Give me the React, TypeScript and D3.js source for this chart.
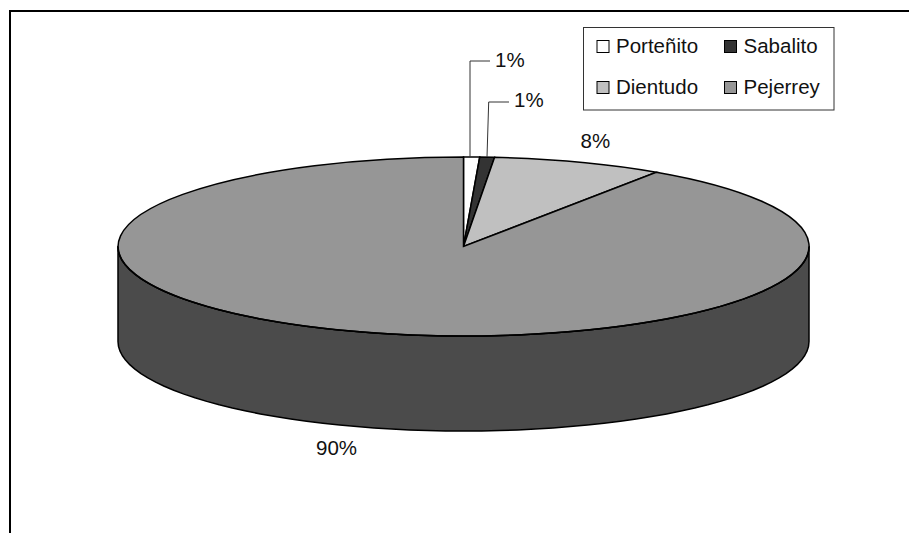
import React from 'react';
import * as d3 from 'd3';

const categories = ['Porteñito', 'Sabalito', 'Dientudo', 'Pejerrey'];
const shares = [0.75, 0.68, 8.0, 90.57];
const percentLabels = ['1%', '1%', '8%', '90%'];
const sliceColors = ['#ffffff', '#333333', '#c0c0c0', '#969696'];
const sideColor = '#4b4b4b';

const width = 909;
const height = 533;
const cx = 463.5;
const cy = 246.5;
const rx = 345.5;
const ry = 89.5;
const depth = 95;

const font = '"Liberation Sans", Arial, sans-serif';

const App = () => {
  const pie = d3.pie<number>().sort(null)(shares);
  const arc = d3.arc<d3.PieArcDatum<number>>().innerRadius(0).outerRadius(1);

  // the wall is the front half of the ellipse, pushed down by the depth
  const xScale = d3.scaleLinear().domain([-1, 1]).range([cx - rx, cx + rx]);
  const yScale = d3.scaleLinear().domain([-1, 1]).range([cy - ry, cy + ry]);
  const front = d3.range(0, 181, 3).map(a => (a * Math.PI) / 180);
  const edge = d3.line<number>()
    .x(a => xScale(Math.cos(a)))
    .y(a => yScale(Math.sin(a)));
  const wall = d3.line<[number, number]>();
  const topPts: [number, number][] = front.map(a => [xScale(Math.cos(a)), yScale(Math.sin(a))]);
  const lowPts: [number, number][] = topPts.map(p => [p[0], p[1] + depth]).reverse();

  const legendCols = [597, 724.5];
  const legendRows = [46.5, 87.5];

  return (
    <svg width={width} height={height} style={{position: 'absolute', left: 0, top: 0, background: '#fff'}}>
      <path d={`M10,${height}V11H${width}`} fill="none" stroke="#000" strokeWidth={2} />

      <path d={wall([...topPts, ...lowPts]) + 'Z'} fill={sideColor} stroke="#000" strokeWidth={1.5} strokeLinejoin="round" />

      <g transform={`translate(${cx},${cy}) scale(${rx},${ry})`}>
        {pie.map((d, i) => (
          <path
            key={categories[i]}
            d={arc(d) as string}
            fill={sliceColors[i]}
            stroke="#000"
            strokeWidth={1.5}
            vectorEffect="non-scaling-stroke"
          />
        ))}
      </g>
      <path d={edge(front) as string} fill="none" stroke="#000" strokeWidth={1.5} />

      <path d="M470,157V61H490" fill="none" stroke="#333" strokeWidth={1} />
      <path d="M487,157L488.7,102H509" fill="none" stroke="#333" strokeWidth={1} />

      <g fontFamily={font} fontSize={20.5} fill="#111">
        <text x={495} y={67}>{percentLabels[0]}</text>
        <text x={514} y={107}>{percentLabels[1]}</text>
        <text x={580.5} y={148}>{percentLabels[2]}</text>
        <text x={316} y={455}>{percentLabels[3]}</text>
      </g>

      <rect x={583.5} y={27.5} width={250.5} height={82.5} fill="#fff" stroke="#333" strokeWidth={1} />
      <g fontFamily={font} fontSize={20.5} fill="#111">
        {categories.map((c, i) => {
          const x = legendCols[i % 2];
          const y = legendRows[Math.floor(i / 2)];
          return (
            <g key={c}>
              <rect x={x} y={y - 6} width={12} height={12} fill={sliceColors[i]} stroke="#000" strokeWidth={1} />
              <text x={x + 19} y={y + 6}>{c}</text>
            </g>
          );
        })}
      </g>
    </svg>
  );
};

export default App;
